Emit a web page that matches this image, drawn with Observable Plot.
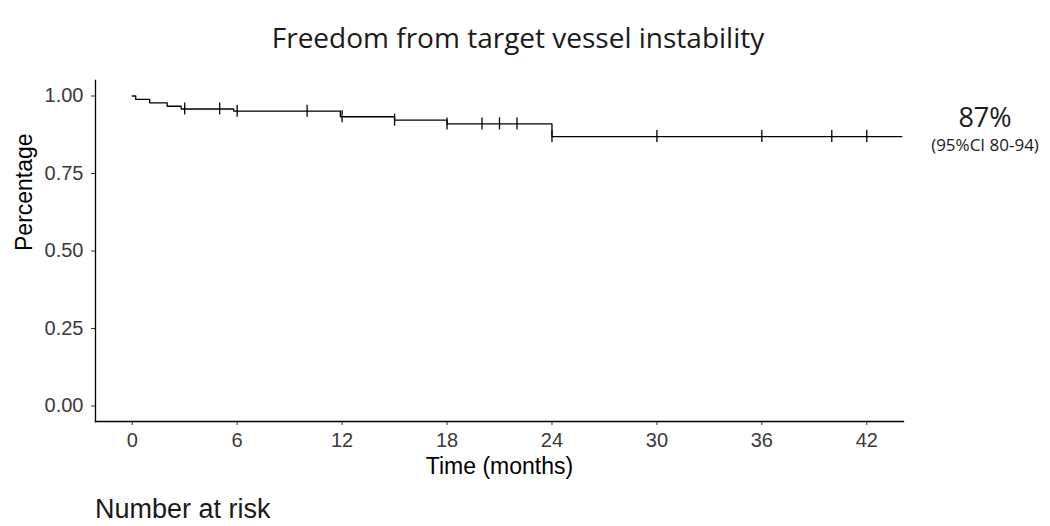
<!DOCTYPE html>
<html>
<head>
<meta charset="utf-8">
<script src="https://cdn.jsdelivr.net/npm/d3@7"></script>
<script src="https://cdn.jsdelivr.net/npm/@observablehq/plot@0.6"></script>
<style>
  html, body { margin: 0; padding: 0; background: #fff; }
  #wrap { position: relative; width: 1050px; height: 526px; overflow: hidden; }
  #chart { position: absolute; left: 0; top: 0; }
  .t { position: absolute; white-space: nowrap; color: #1a1a1a; line-height: 1; }
  #title { font-family: "Open Sans", sans-serif; font-size: 28px; left: 0; width: 1036px; text-align: center; top: 23px; }
  #pct { font-family: "Open Sans", sans-serif; font-size: 27px; left: 920px; width: 130px; text-align: center; top: 103px; }
  #ci { font-family: "Open Sans", sans-serif; font-size: 17px; left: 920px; width: 130px; text-align: center; top: 136px; }
  #risk { font-family: "Liberation Sans", Arial, sans-serif; font-size: 27px; left: 95px; top: 496px; }
</style>
</head>
<body>
<div id="wrap">
  <div id="chart"></div>
  <div class="t" id="title">Freedom from target vessel instability</div>
  <div class="t" id="pct">87%</div>
  <div class="t" id="ci">(95%CI 80-94)</div>
  <div class="t" id="risk">Number at risk</div>
</div>
<script>
// Kaplan–Meier step points (time in months, survival proportion)
const stepTimes = [0, 0.2, 1, 2, 2.8, 5.8, 11.9, 15, 18, 24, 44];
const stepSurv  = [1.0, 0.989, 0.978, 0.967, 0.958, 0.951, 0.933, 0.922, 0.91, 0.869, 0.869];
// Censoring times (months)
const censorTimes = [3, 5, 6, 10, 12, 15, 18, 20, 21, 22, 24, 30, 36, 40, 42];
const xTicks = [0, 6, 12, 18, 24, 30, 36, 42];
const yTicks = [0, 0.25, 0.5, 0.75, 1];

const steps = stepTimes.map((t, i) => ({t, s: stepSurv[i]}));
const survAt = t => {
  let s = stepSurv[0];
  for (let i = 0; i < stepTimes.length; i++) if (stepTimes[i] <= t) s = stepSurv[i];
  return s;
};
const censors = censorTimes.map(t => ({t, s: survAt(t)}));

const chart = Plot.plot({
  width: 1050,
  height: 526,
  marginTop: 80,
  marginBottom: 105,
  marginLeft: 95,
  marginRight: 147,
  style: {fontFamily: "'Liberation Sans', Arial, sans-serif", fontSize: "20px", color: "#3a3a3a", background: "#fff"},
  x: {domain: [-2.1, 44.1]},
  y: {domain: [-0.05, 1.05]},
  marks: [
    Plot.axisY({ticks: yTicks, tickFormat: d3.format(".2f"), tickSize: 4, tickPadding: 8, label: null, stroke: "#333"}),
    Plot.axisX({ticks: xTicks, tickFormat: d => d, tickSize: 4, tickPadding: 7, label: null, stroke: "#333"}),
    Plot.frame({anchor: "left", stroke: "#000", strokeWidth: 1.3}),
    Plot.frame({anchor: "bottom", stroke: "#000", strokeWidth: 1.3}),
    Plot.text(["Time (months)"], {frameAnchor: "bottom", dy: 52, fontSize: 23, fill: "#000"}),
    Plot.text(["Percentage"], {frameAnchor: "left", dx: -71, rotate: -90, fontSize: 23, fill: "#000"}),
    Plot.line(steps, {x: "t", y: "s", curve: "step-after", stroke: "#000", strokeWidth: 1.3}),
    Plot.ruleX(censors, {x: "t", y1: "s", y2: "s", insetTop: -6, insetBottom: -6, stroke: "#000", strokeWidth: 1.3})
  ]
});
document.getElementById("chart").appendChild(chart);
</script>
</body>
</html>
